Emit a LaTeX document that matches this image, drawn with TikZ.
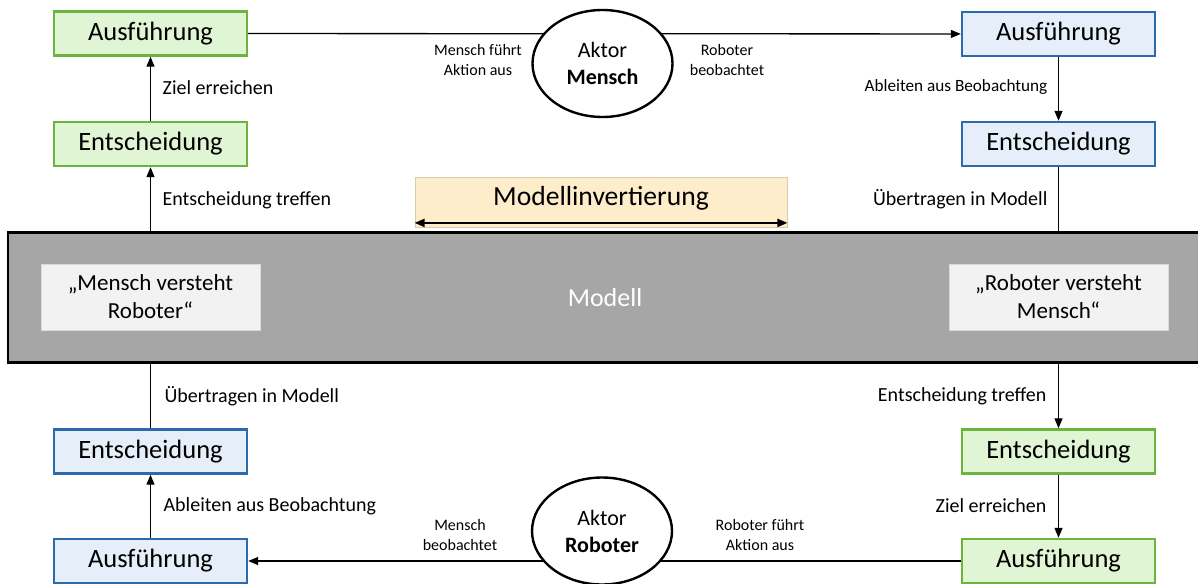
\documentclass[tikz,border=0pt]{standalone}
\usepackage{fontspec}
\setmainfont{Carlito}
\usetikzlibrary{shapes.geometric,arrows.meta}
\definecolor{gruenfill}{HTML}{DFF5D4}
\definecolor{gruenrand}{HTML}{6DB43F}
\definecolor{blaufill}{HTML}{E6EFF9}
\definecolor{blaurand}{HTML}{2C6AAE}
\definecolor{invfill}{HTML}{FDEDCB}
\definecolor{invrand}{HTML}{D8CBB0}
\definecolor{modellgrau}{HTML}{A6A6A6}
\definecolor{zitatfill}{HTML}{F2F2F2}
\tikzset{
  kasten/.style={line width=1.2pt, minimum width=96.5pt, minimum height=22pt, inner sep=0pt, font=\fontsize{13.25}{15}\selectfont},
  gruen/.style={kasten, draw=gruenrand, fill=gruenfill},
  blau/.style={kasten, draw=blaurand, fill=blaufill},
  aktor/.style={ellipse, draw=black, fill=white, line width=1.2pt, minimum width=70pt, minimum height=53.5pt, inner sep=0pt, align=center, font=\fontsize{11}{13.5}\selectfont},
  zitat/.style={fill=zitatfill, draw=zitatfill!90!black, line width=0.3pt, minimum width=109.5pt, minimum height=33pt, align=center, font=\fontsize{11.5}{14}\selectfont},
  lbl/.style={inner sep=0pt, font=\fontsize{10}{12}\selectfont},
  klein/.style={inner sep=0pt, align=center, font=\fontsize{8}{10}\selectfont},
  pfeil/.style={-{Triangle[length=5pt,width=4pt]}},
}
\begin{document}
\begin{tikzpicture}[x=0.5pt, y=-0.5pt, line width=0.65pt]
\useasboundingbox (0,0) rectangle (1198,583);
\clip (0,0) rectangle (1198,583);
\node[draw=black, fill=modellgrau, line width=1.2pt, minimum width=601pt, minimum height=65pt, inner sep=0pt] (modell) at (609,297.5) {};
\node[text=white, font=\fontsize{13}{15}\selectfont] (modelltext) at (605,298) {Modell};
\node[zitat] (zlinks) at (150.5,297) {„Mensch versteht\\Roboter“};
\node[zitat] (zrechts) at (1058.5,297) {„Roboter versteht\\Mensch“};
\node[fill=invfill, draw=invrand, line width=0.4pt, minimum width=186pt, minimum height=25pt] (inv) at (601,202.5) {};
\node[font=\fontsize{13.8}{15}\selectfont] (invtext) at (601,198) {Modellinvertierung};
\draw[{Triangle[length=5pt,width=4pt]}-{Triangle[length=5pt,width=4pt]}, line width=1pt] ([yshift=2.5pt]inv.south west) -- ([yshift=2.5pt]inv.south east);
\node[gruen] (tlA) at (150.5,33.5) {Ausführung};
\node[gruen] (tlE) at (150.5,144) {Entscheidung};
\node[blau] (trA) at (1058.5,34) {Ausführung};
\node[blau] (trE) at (1058.5,144) {Entscheidung};
\node[blau] (blE) at (150.5,451.5) {Entscheidung};
\node[blau] (blA) at (150.5,561) {Ausführung};
\node[gruen] (brE) at (1058.5,451.5) {Entscheidung};
\node[gruen] (brA) at (1058.5,561) {Ausführung};
\draw[pfeil] (tlA) -- (trA);
\draw[pfeil] (brA) -- (blA);
\node[aktor] (mensch) at (602.5,63.5) {Aktor\\\textbf{Mensch}};
\node[aktor] (roboter) at (602,531) {Aktor\\\textbf{Roboter}};
\draw[pfeil] (modell.north -| tlE) -- (tlE);
\draw[pfeil] (tlE) -- (tlA);
\draw[pfeil] (trA) -- (trE);
\draw (trE) -- (trE |- modell.north);
\draw (blE) -- (blE |- modell.south);
\draw[pfeil] (blA) -- (blE);
\draw[pfeil] (brE |- modell.south) -- (brE);
\draw[pfeil] (brE) -- (brA);
\node[lbl, anchor=west] (l1) at (162,88) {Ziel erreichen};
\node[lbl, anchor=west] (l2) at (162,200) {Entscheidung treffen};
\node[lbl, anchor=west] (l3) at (164,396) {Übertragen in Modell};
\node[lbl, anchor=west] (l4) at (163,506) {Ableiten aus Beobachtung};
\node[lbl, anchor=east, font=\fontsize{8.6}{10}\selectfont] (r1) at (1048,87) {Ableiten aus Beobachtung};
\node[lbl, anchor=east] (r2) at (1048,199) {Übertragen in Modell};
\node[lbl, anchor=east] (r3) at (1047,396) {Entscheidung treffen};
\node[lbl, anchor=east] (r4) at (1047,506) {Ziel erreichen};
\node[klein] (k1) at (478,60) {Mensch führt\\Aktion aus};
\node[klein] (k2) at (727,60) {Roboter\\beobachtet};
\node[klein] (k3) at (460,535) {Mensch\\beobachtet};
\node[klein] (k4) at (760,535) {Roboter führt\\Aktion aus};
\end{tikzpicture}
\end{document}
